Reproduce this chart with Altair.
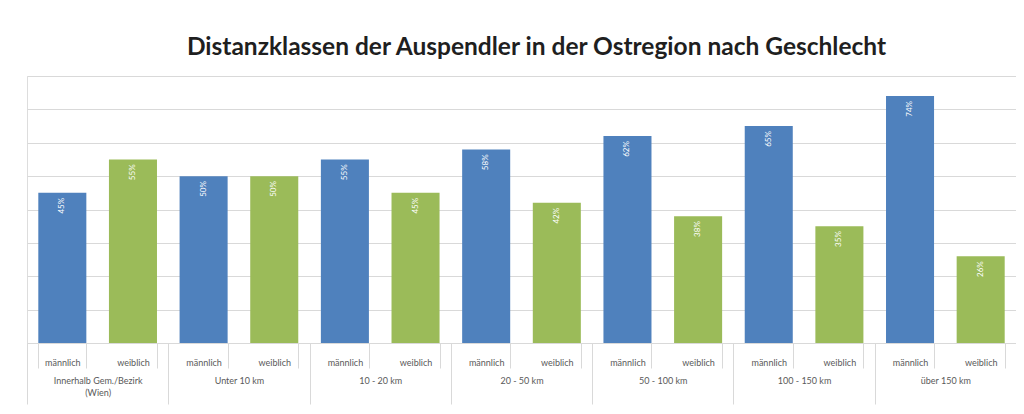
import altair as alt
import pandas as pd

title_text = "Distanzklassen der Auspendler in der Ostregion nach Geschlecht"
groups = ["Innerhalb Gem./Bezirk (Wien)", "Unter 10 km", "10 - 20 km", "20 - 50 km",
          "50 - 100 km", "100 - 150 km", "über 150 km"]
sexes = ["männlich", "weiblich"]
male = [45, 50, 55, 58, 62, 65, 74]
female = [55, 50, 45, 42, 38, 35, 26]
grid_values = [0, 10, 20, 30, 40, 50, 60, 70, 80]

rows = []
for i, g in enumerate(groups):
    for s, vals in zip(sexes, [male, female]):
        v = vals[i]
        rows.append({"key": f"{i}|{s}", "group": g, "sex": s, "pct": v, "label": f"{v}%"})
df = pd.DataFrame(rows)
keys = list(df["key"])

W, H = 989, 267
font = "Lato"
grid_c = "#D9D9D9"
lab_c = "#595959"

x1 = alt.X("key:N", sort=keys,
           scale=alt.Scale(type="band", paddingInner=0.32, paddingOuter=0.16),
           axis=alt.Axis(orient="bottom", title=None, labelAngle=0, grid=False,
                         labelExpr="split(datum.value, '|')[1]",
                         tickBand="extent", tickSize=25, tickColor=grid_c,
                         domainColor=grid_c, labelPadding=-10,
                         labelFont=font, labelFontSize=9, labelColor=lab_c))
y_axis = alt.Axis(title=None, labels=False, ticks=False, domain=False,
                  values=grid_values, grid=True, gridColor=grid_c, gridWidth=1)
y = alt.Y("pct:Q", scale=alt.Scale(domain=[0, 80], nice=False), axis=y_axis)

base = alt.Chart(df).encode(x=x1, y=y)
bars = base.mark_bar().encode(
    color=alt.Color("sex:N", scale=alt.Scale(domain=sexes, range=["#4F81BD", "#9BBB59"]),
                    legend=None),
)
labels = base.mark_text(angle=270, align="right", baseline="middle", dx=-5,
                        fontSize=8, font=font, color="white").encode(text="label:N")
inner = alt.layer(bars, labels)

groups_layer = alt.Chart(df).mark_bar(opacity=0).encode(
    x=alt.X("group:N", sort=groups,
            scale=alt.Scale(type="band", paddingInner=0, paddingOuter=0),
            axis=alt.Axis(orient="bottom", title=None, labelAngle=0, grid=False,
                          labelExpr="datum.value == 'Innerhalb Gem./Bezirk (Wien)' ? ['Innerhalb Gem./Bezirk', '(Wien)'] : datum.label",
                          tickBand="extent", tickSize=61, tickColor=grid_c,
                          domain=False, labelPadding=-28, labelLineHeight=12,
                          labelFont=font, labelFontSize=9, labelColor=lab_c)),
    y=y,
)

title = alt.Chart(pd.DataFrame({"t": [title_text]})).mark_text(
    font=font, fontSize=24.5, fontWeight="bold", color="#1F1F1F",
    align="center", baseline="alphabetic").encode(
    text="t:N", x=alt.value(W / 2 + 15), y=alt.value(-21))

chart = alt.layer(inner, groups_layer, title).resolve_scale(x="independent").properties(
    width=W, height=H,
    autosize=alt.AutoSizeParams(type="none"),
    padding={"left": 19, "top": 68, "right": 0, "bottom": 63},
).configure_view(strokeWidth=0).configure(background="white")

chart.save("out.html", embed_options={"renderer": "svg", "actions": False})
